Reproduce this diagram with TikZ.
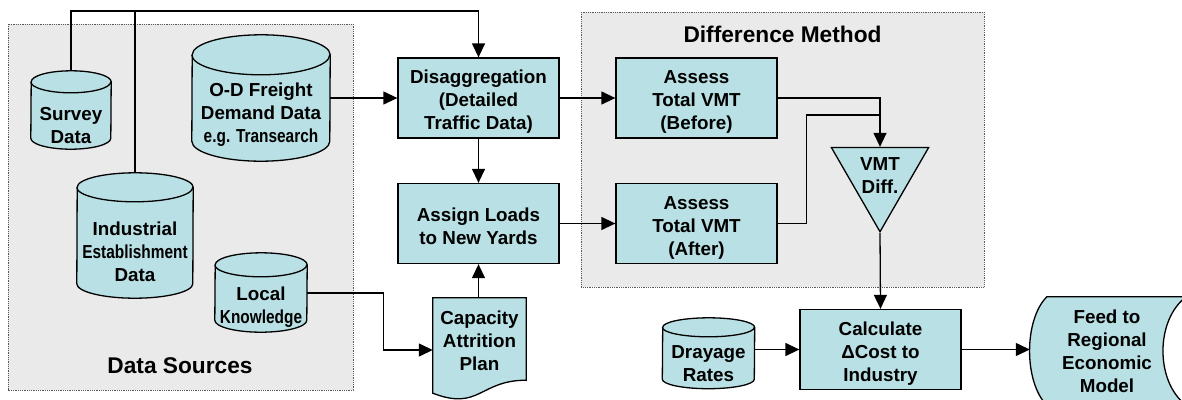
\documentclass[tikz,border=0pt]{standalone}
\usepackage{fontspec}
\setmainfont{Liberation Sans}
\usetikzlibrary{arrows.meta,shapes.geometric}
\definecolor{boxcyan}{RGB}{185,224,228}
\definecolor{panelgray}{RGB}{234,234,234}
\pgfdeclarelayer{back}
\pgfsetlayers{back,main}
\newcommand{\squeeze}[1]{\scalebox{.82}[1]{#1}}
% data store drum: node, half width, y radius, lift of top ellipse above node
\newcommand{\drum}[4]{%
	\path[sheet] ([yshift=#3]#1.south west) arc[start angle=180, end angle=360, x radius=#2, y radius=#3]
		-- ([yshift=#4]#1.north east) arc[start angle=0, end angle=180, x radius=#2, y radius=#3] -- cycle;
	\draw[line width=1.3pt] ([yshift=#4]#1.north west) arc[start angle=180, end angle=360, x radius=#2, y radius=#3];}
\begin{document}
\begin{tikzpicture}[x=1pt,y=-1pt,
		every node/.style={font=\fontsize{18.8}{23}\selectfont\bfseries, align=center, inner sep=0pt},
		box/.style={draw, fill=boxcyan, line width=1.3pt, minimum width=161pt, minimum height=80pt,
			text height=63pt, text depth=0pt},
		sheet/.style={draw, fill=boxcyan, line width=1.3pt},
		panel/.style={fill=panelgray, draw=gray!70!black, densely dotted, line width=0.8pt},
		title/.style={font=\fontsize{22.7}{27}\selectfont\bfseries},
		flow/.style={line width=1.3pt, -{Triangle[length=14pt,width=13pt]}},
		link/.style={line width=1.3pt}]
	\useasboundingbox (0,0) rectangle (1182,399);
	\node[title] (srctitle) at (180,366) {Data Sources};
	\node[title] (difftitle) at (782.5,34) {Difference Method};
	% data stores
	\node[minimum width=80pt, minimum height=47pt] (survey) at (71,125.5) {Survey\\Data};
	\node[minimum width=138pt, minimum height=92pt] (od) at (261,115) {O-D Freight\\Demand Data\\\squeeze{e.g. Transearch}};
	\node[minimum width=116pt, minimum height=92pt] (industrial) at (135,252) {Industrial\\\squeeze{Establishment}\\Data};
	\node[minimum width=92pt, minimum height=49pt] (local) at (261,307.5) {Local\\\squeeze{Knowledge}};
	\node[minimum width=92pt, minimum height=49pt] (drayage) at (708.5,364) {Drayage\\Rates};
	% process boxes
	\node[box] (disagg) at (478.5,98) {Disaggregation\\(Detailed\\Traffic Data)};
	\node[box, text height=42pt] (assign) at (478.5,223.5) {Assign Loads\\to New Yards};
	\node[minimum width=93pt, minimum height=86pt] (plan) at (479.5,341) {Capacity\\Attrition\\Plan};
	\node[box] (before) at (696.5,98) {Assess\\Total VMT\\(Before)};
	\node[box] (after) at (696.5,223.5) {Assess\\Total VMT\\(After)};
	\node[regular polygon, regular polygon sides=3, shape border rotate=180, draw, fill=boxcyan,
		line width=1.3pt, minimum size=106pt] (vmt) at (880,175.6) {VMT\\Diff.};
	\node[box] (calc) at (880.5,349.5) {Calculate\\ΔCost to\\Industry};
	\node[minimum width=154pt, minimum height=108pt] (feed) at (1107,351) {Feed to\\Regional\\Economic\\Model};
	% grey panels and outlines behind the text
	\begin{pgfonlayer}{back}
		\draw[panel] (8,24) rectangle (353,390);
		\draw[panel] (581,12) rectangle (984,287);
		\drum{survey}{40pt}{11pt}{20pt}
		\drum{od}{69pt}{20pt}{14pt}
		\drum{industrial}{58pt}{14.5pt}{18.5pt}
		\drum{local}{46pt}{12pt}{18pt}
		\drum{drayage}{46pt}{9.5pt}{12pt}
		\draw[sheet] (plan.north west) -- (plan.north east) -- ([yshift=4pt]plan.south east)
			.. controls ([yshift=4pt]plan.south) and ([yshift=-27pt]plan.south) .. ([yshift=-9pt]plan.south west) -- cycle;
		\draw[sheet] ([xshift=17pt]feed.north west) -- ([xshift=2pt]feed.north east)
			.. controls ([xshift=-29pt,yshift=-23pt]feed.north east) and ([xshift=-29pt,yshift=23pt]feed.south east) .. ([xshift=2pt]feed.south east)
			-- ([xshift=17pt]feed.south west)
			.. controls ([xshift=-6pt,yshift=23pt]feed.south west) and ([xshift=-6pt,yshift=-23pt]feed.north west) .. ([xshift=17pt]feed.north west) -- cycle;
	\end{pgfonlayer}
	% connectors
	\coordinate (bus) at (478.5,11);
	\coordinate (join) at (880,115);
	\draw[flow] ([yshift=31pt]survey.north) |- (bus) -- (disagg.north);
	\draw[link] ([yshift=33pt]industrial.north) -- (industrial.north |- bus);
	\draw[flow] (od.east |- disagg.west) -- (disagg.west);
	\draw[flow] (disagg.south) -- (assign.north);
	\draw[flow] (disagg.east) -- (before.west);
	\draw[flow] (assign.east) -- (after.west);
	\draw[flow] ([yshift=14.5pt]local.east) -- ++(76,0) |- ([yshift=-9pt]plan.west);
	\draw[flow] (assign.south |- plan.north) -- (assign.south);
	\draw[flow] (before.east) -| (vmt.north);
	\draw[link] (after.east) -- ++(29,0) |- (join);
	\draw[flow] (vmt.south) -- (calc.north);
	\draw[flow] (drayage.east |- calc.west) -- (calc.west);
	\draw[flow] (calc.east) -- (calc.east -| feed.west);
\end{tikzpicture}
\end{document}
